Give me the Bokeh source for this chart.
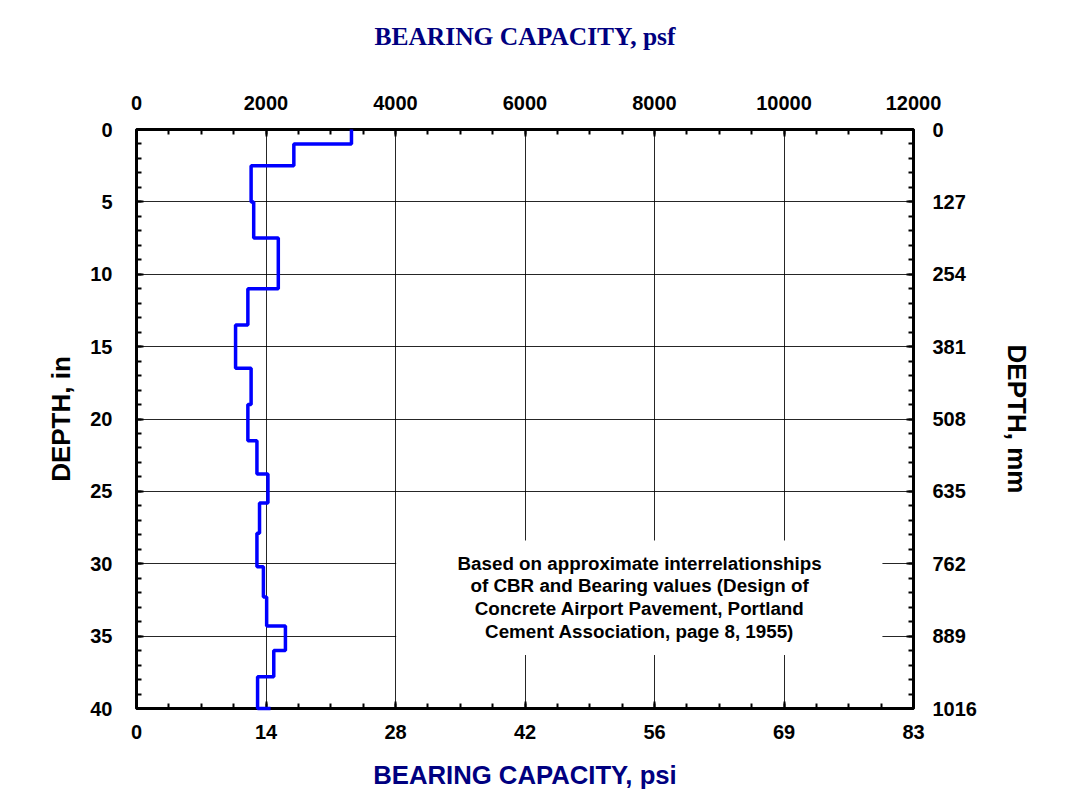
import math
from bokeh.plotting import figure
from bokeh.models import Range1d, LinearAxis, FixedTicker, Label, BoxAnnotation, ColumnDataSource
from bokeh.embed import file_html
from bokeh.resources import INLINE

# ---- data ----
depth_in = [0.0, 1.0, 2.5, 5.0, 7.5, 11.0, 13.5, 16.5, 19.0, 21.5, 23.8, 25.8, 27.9, 30.2, 32.3, 34.3, 36.0, 37.8, 40.0]
bearing_psf = [3320, 2430, 1770, 1810, 2190, 1720, 1530, 1770, 1720, 1860, 2030, 1900, 1860, 1960, 2010, 2300, 2120, 1870, 2070]

psf_ticks = [0, 2000, 4000, 6000, 8000, 10000, 12000]
psf_labels = ["0", "2000", "4000", "6000", "8000", "10000", "12000"]
psi_labels = ["0", "14", "28", "42", "56", "69", "83"]
depth_ticks = [0, 5, 10, 15, 20, 25, 30, 35, 40]
depth_in_labels = ["0", "5", "10", "15", "20", "25", "30", "35", "40"]
depth_mm_labels = ["0", "127", "254", "381", "508", "635", "762", "889", "1016"]

note = ("Based on approximate interrelationships\n"
        "of CBR and Bearing values (Design of\n"
        "Concrete Airport Pavement, Portland\n"
        "Cement Association, page 8, 1955)")

# build the vertical step path from the arrays
xs, ys = [], []
for i in range(len(depth_in) - 1):
    xs += [bearing_psf[i], bearing_psf[i]]
    ys += [depth_in[i], depth_in[i + 1]]
xs.append(bearing_psf[-1])
ys.append(depth_in[-1])
src = ColumnDataSource(dict(x=xs, y=ys))

NAVY = "#000080"
SANS = "Liberation Sans"

p = figure(width=1056, height=796, output_backend="svg", toolbar_location=None,
           x_range=Range1d(0, 12000), y_range=Range1d(40, 0),
           x_axis_location="above", y_axis_location="left",
           min_border_left=136, min_border_right=143, min_border_top=129, min_border_bottom=88)
p.background_fill_color = "white"
p.border_fill_color = "white"
p.outline_line_color = "black"
p.outline_line_width = 3

bottom = LinearAxis()
right = LinearAxis()
p.add_layout(bottom, "below")
p.add_layout(right, "right")

minor_x = [v * 500 for v in range(0, 25)]
minor_y = list(range(0, 41))

top = p.xaxis[0]
left = p.yaxis[0]

for ax in (top, bottom):
    ax.ticker = FixedTicker(ticks=psf_ticks, minor_ticks=minor_x)
for ax in (left, right):
    ax.ticker = FixedTicker(ticks=depth_ticks, minor_ticks=minor_y)

top.major_label_overrides = {t: l for t, l in zip(psf_ticks, psf_labels)}
bottom.major_label_overrides = {t: l for t, l in zip(psf_ticks, psi_labels)}
left.major_label_overrides = {t: l for t, l in zip(depth_ticks, depth_in_labels)}
right.major_label_overrides = {t: l for t, l in zip(depth_ticks, depth_mm_labels)}

for ax in (top, bottom, left, right):
    ax.axis_line_color = None
    ax.major_tick_in = 7
    ax.major_tick_out = 0
    ax.minor_tick_in = 5
    ax.minor_tick_out = 0
    ax.major_tick_line_width = 2
    ax.minor_tick_line_width = 2
    ax.major_tick_line_color = "black"
    ax.minor_tick_line_color = "black"
    ax.major_label_text_font = SANS
    ax.major_label_text_font_style = "bold"
    ax.major_label_text_font_size = "20px"
    ax.major_label_text_color = "black"
    ax.axis_label_text_font_style = "bold"
    ax.axis_label_text_font_size = "26px"

top.axis_label = "BEARING CAPACITY, psf"
top.axis_label_text_font = "Liberation Serif"
top.axis_label_text_font_size = "25.5px"
top.axis_label_text_color = NAVY
top.major_label_standoff = 20
top.axis_label_standoff = 42

bottom.axis_label = "BEARING CAPACITY, psi"
bottom.axis_label_text_font = SANS
bottom.axis_label_text_font_size = "25.7px"
bottom.axis_label_text_color = NAVY
bottom.major_label_standoff = 16
bottom.axis_label_standoff = 19

left.axis_label = "DEPTH, in"
left.axis_label_text_font = SANS
left.axis_label_text_color = "black"
left.major_label_standoff = 24
left.axis_label_standoff = 11

right.axis_label = "DEPTH, mm"
right.axis_label_text_font = SANS
right.axis_label_text_color = "black"
right.major_label_standoff = 19
right.axis_label_standoff = 22
if hasattr(right, "axis_label_orientation"):
    right.axis_label_orientation = "vertical"

p.xgrid.ticker = FixedTicker(ticks=psf_ticks[1:-1])
p.ygrid.ticker = FixedTicker(ticks=depth_ticks[1:-1])
p.grid.grid_line_color = "black"
p.grid.grid_line_width = 1
p.grid.grid_line_alpha = 0.85

# white note box hiding the grid behind the text
p.add_layout(BoxAnnotation(left=4010, right=11520, top=28.4, bottom=36.3,
                           fill_color="white", fill_alpha=1.0, line_color=None))
p.add_layout(Label(x=7770, y=32.3, text=note, text_align="center", text_baseline="middle",
                   text_font=SANS, text_font_style="bold", text_font_size="18.8px",
                   text_color="black", text_line_height=1.08))

p.line("x", "y", source=src, line_color="#0000FF", line_width=3.5, level="overlay")

open("out.html", "w").write(file_html(p, INLINE))
